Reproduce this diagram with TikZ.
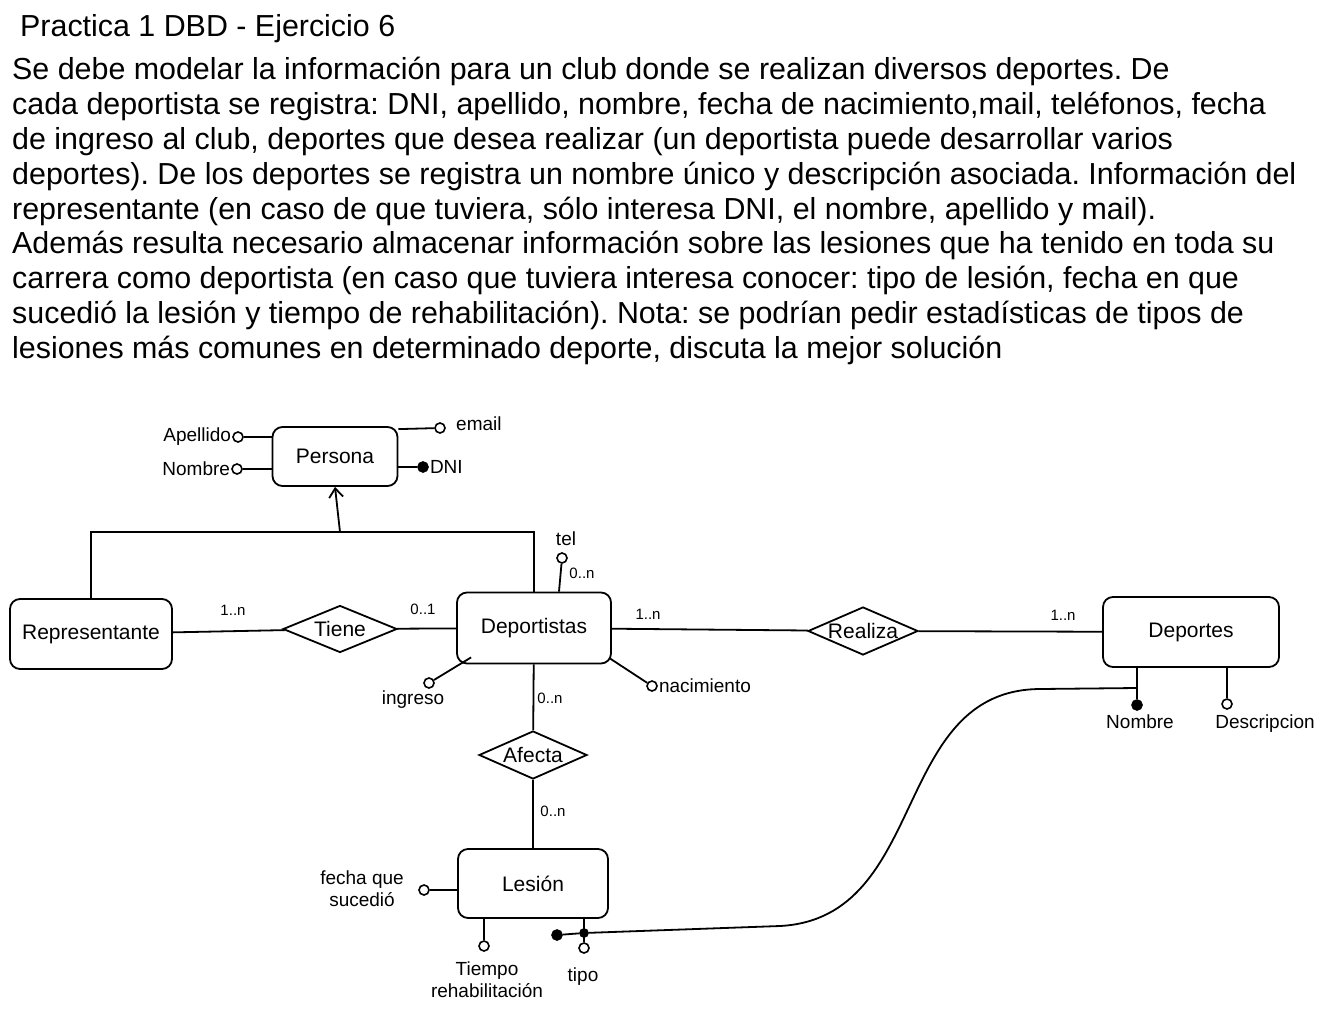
\documentclass[tikz,border=0pt]{standalone}
\usepackage{fontspec}
\setmainfont{Liberation Sans}
\usetikzlibrary{shapes.geometric,arrows.meta,calc}

\newcommand{\letragrande}{\fontsize{30.4}{34}\selectfont}
\tikzset{
    entidad/.style={draw, line width=1.8pt, rounded corners=10pt, font=\fontsize{21}{24}\selectfont},
    relacion/.style={draw, diamond, line width=1.8pt, inner sep=-4pt, aspect=2.4, font=\fontsize{21}{24}\selectfont},
    atrib/.style={circle, draw, line width=1.6pt, fill=white, inner sep=0pt, minimum size=10pt},
    clave/.style={atrib, fill=black},
    etiq/.style={font=\fontsize{19}{22}\selectfont, inner sep=1pt, align=center},
    card/.style={font=\fontsize{15}{17}\selectfont, inner sep=1pt},
    linea/.style={line width=1.8pt},
}

\begin{document}
\frenchspacing
\begin{tikzpicture}[x=1pt, y=-1pt]
    \useasboundingbox[fill=white] (0, 0) rectangle (1329, 1014);

    \node[anchor=base west, inner sep=0pt, font=\letragrande] (titulo) at (20, 37) {Practica 1 DBD - Ejercicio 6};
    \foreach \renglon [count=\i] in {
        {Se debe modelar la información para un club donde se realizan diversos deportes. De},
        {cada deportista se registra: DNI, apellido, nombre, fecha de nacimiento,mail, teléfonos, fecha},
        {de ingreso al club, deportes que desea realizar (un deportista puede desarrollar varios},
        {deportes). De los deportes se registra un nombre único y descripción asociada. Información del},
        {representante (en caso de que tuviera, sólo interesa DNI, el nombre, apellido y mail).},
        {Además resulta necesario almacenar información sobre las lesiones que ha tenido en toda su},
        {carrera como deportista (en caso que tuviera interesa conocer: tipo de lesión, fecha en que},
        {sucedió la lesión y tiempo de rehabilitación). Nota: se podrían pedir estadísticas de tipos de},
        {lesiones más comunes en determinado deporte, discuta la mejor solución}}
    {\node[anchor=base west, inner sep=0pt, font=\letragrande] (enunciado\i) at (12, 45.25 + 34.75*\i) {\renglon};}

    \node[entidad, minimum width=125pt, minimum height=59pt] (persona) at (335, 456.5) {Persona};
    \node[entidad, minimum width=162pt, minimum height=70pt] (representante) at (91, 634) {Representante};
    \node[entidad, minimum width=154pt, minimum height=71pt] (deportistas) at (534, 628) {Deportistas};
    \node[entidad, minimum width=176pt, minimum height=70pt] (deportes) at (1191, 632) {Deportes};
    \node[entidad, minimum width=150pt, minimum height=69pt] (lesion) at (533, 883.5) {Lesión};

    \node[relacion, minimum width=114pt, minimum height=47pt] (tiene) at (340, 629) {Tiene};
    \node[relacion, minimum width=110pt, minimum height=48pt] (realiza) at (863, 631) {Realiza};
    \node[relacion, minimum width=108pt, minimum height=48pt] (afecta) at (533, 755) {Afecta};

    \coordinate (isa) at (340, 532);
    \draw[linea, line width=2.6pt] (representante.north) |- (deportistas.north |- isa) -- (deportistas.north);
    \draw[linea, -{Straight Barb[length=9pt, width=14pt, line width=1.8pt]}] (isa) -- (persona.south);

    \draw[linea] (representante) -- (tiene);
    \draw[linea] (tiene) -- (deportistas);
    \draw[linea] (deportistas) -- (realiza);
    \draw[linea] (realiza) -- (deportes);
    \draw[linea] (deportistas) -- (afecta);
    \draw[linea] (afecta) -- (lesion);

    \node[card] (c1) at (233, 610) {1..n};
    \node[card] (c2) at (423, 609) {0..1};
    \node[card] (c3) at (648, 614) {1..n};
    \node[card] (c4) at (1063, 615) {1..n};
    \node[card] (c5) at (582, 573) {0..n};
    \node[card] (c6) at (550, 698) {0..n};
    \node[card] (c7) at (553, 811) {0..n};

    \node[atrib] (apellido) at (238, 437) {};
    \node[etiq, anchor=east] at (apellido.west) {Apellido};
    \draw[linea] (apellido) -- (apellido -| persona.west);
    \node[atrib] (nombre) at (237, 469) {};
    \node[etiq, anchor=east] at (nombre.west) {Nombre};
    \draw[linea] (nombre) -- (nombre -| persona.west);
    \node[atrib] (email) at (440, 428) {};
    \node[etiq, anchor=west] at (455, 424) {email};
    \draw[linea] (email) -- ($(persona.north east)+(0, 3)$);
    \node[clave] (dni) at (423, 467) {};
    \node[etiq, anchor=west] at (dni.east) {DNI};
    \draw[linea] (dni) -- (dni -| persona.east);

    \node[atrib] (tel) at (562, 558) {};
    \node[etiq] at (566, 539) {tel};
    \draw[linea] (tel) -- ($(deportistas.north)+(25, 0)$);
    \node[atrib] (ingreso) at (429, 683) {};
    \node[etiq] at (413, 700) {ingreso};
    \draw[linea] (ingreso) -- ($(deportistas.south west)+(15, -7)$);
    \node[atrib] (nacimiento) at (652, 686) {};
    \node[etiq, anchor=west] at (nacimiento.east) {nacimiento};
    \draw[linea] (nacimiento) -- ($(deportistas.south east)+(-2, -6)$);

    \node[clave] (nombredep) at (1137, 705) {};
    \node[etiq] at (1140, 722) {Nombre};
    \draw[linea] (nombredep) -- (nombredep |- deportes.south);
    \node[atrib] (descripcion) at (1227, 704) {};
    \node[etiq] at (1265, 724) {Descripcion};
    \draw[linea] (descripcion) -- (descripcion |- deportes.south);

    \node[atrib] (fecha) at (424, 890) {};
    \node[etiq] at (362, 889) {fecha que\\sucedió};
    \draw[linea] (fecha) -- (fecha -| lesion.west);
    \node[atrib] (tiempo) at (484, 946) {};
    \node[etiq] at (487, 980) {Tiempo\\rehabilitación};
    \draw[linea] (tiempo) -- (tiempo |- lesion.south);
    \node[atrib] (tipo) at (584, 948) {};
    \node[etiq] at (583, 977) {tipo};
    \draw[linea] (tipo) -- (tipo |- lesion.south);

    \coordinate (unionnombre) at (1137, 688);
    \node[clave] (identif) at (557, 935) {};
    \node[clave, minimum size=8pt] (uniontipo) at (584, 933) {};
    \draw[linea] (identif) -- (uniontipo) -- (780, 926) .. controls (930, 918) and (890, 690) .. (1040, 689) -- (unionnombre);
\end{tikzpicture}
\end{document}
